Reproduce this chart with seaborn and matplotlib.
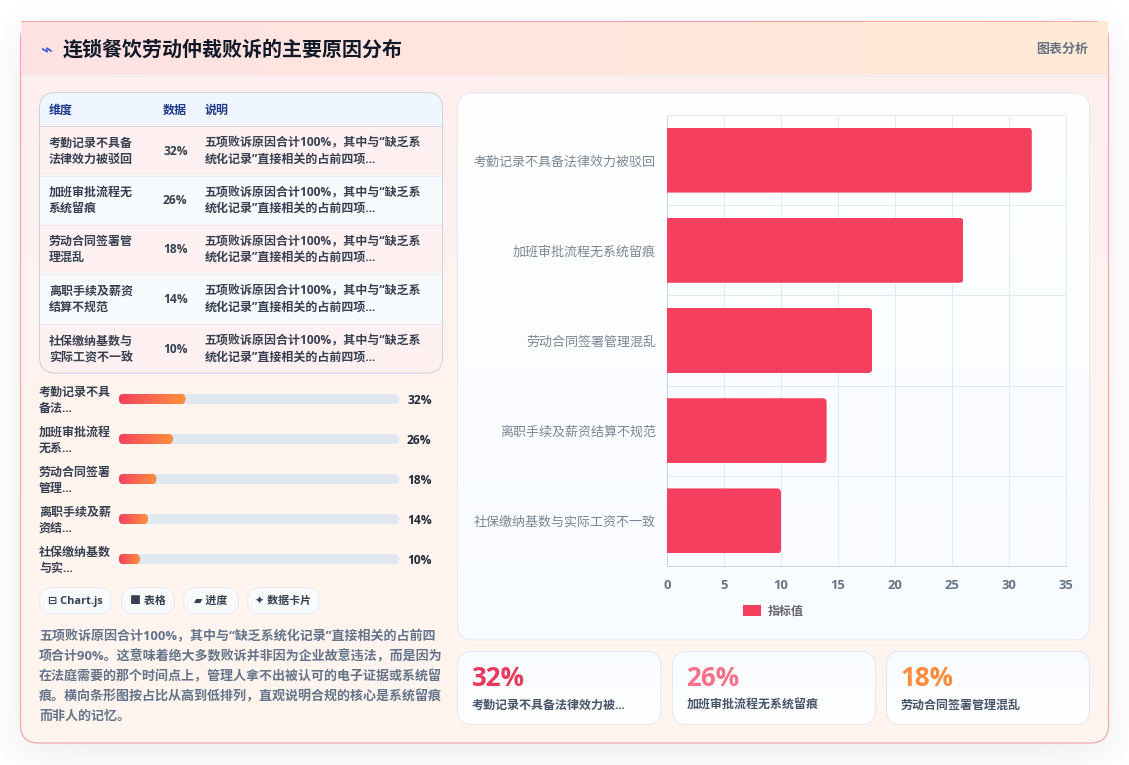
import numpy as np
import pandas as pd
import matplotlib
matplotlib.use("Agg")
import matplotlib.pyplot as plt
import seaborn as sns
from matplotlib.colors import to_rgb
from matplotlib.patches import FancyBboxPatch, Rectangle, Patch
from matplotlib.transforms import IdentityTransform

# ---- content ----
TITLE = "连锁餐饮劳动仲裁败诉的主要原因分布"
BADGE = "图表分析"
reasons = ["考勤记录不具备法律效力被驳回", "加班审批流程无系统留痕", "劳动合同签署管理混乱",
           "离职手续及薪资结算不规范", "社保缴纳基数与实际工资不一致"]
values = [32, 26, 18, 14, 10]
table_head = ["维度", "数据", "说明"]
table_names = [["考勤记录不具备", "法律效力被驳回"], ["加班审批流程无", "系统留痕"], ["劳动合同签署管", "理混乱"],
               ["离职手续及薪资", "结算不规范"], ["社保缴纳基数与", "实际工资不一致"]]
table_note = ["五项败诉原因合计100%，其中与“缺乏系", "统化记录”直接相关的占前四项..."]
progress_names = [["考勤记录不具", "备法..."], ["加班审批流程", "无系..."], ["劳动合同签署", "管理..."],
                  ["离职手续及薪", "资结..."], ["社保缴纳基数", "与实..."]]
chips = ["⊟ Chart.js", "■ 表格", "▰ 进度", "✦ 数据卡片"]
paragraph = ["五项败诉原因合计100%，其中与“缺乏系统化记录”直接相关的占前四",
             "项合计90%。这意味着绝大多数败诉并非因为企业故意违法，而是因为",
             "在法庭需要的那个时间点上，管理人拿不出被认可的电子证据或系统留",
             "痕。横向条形图按占比从高到低排列，直观说明合规的核心是系统留痕",
             "而非人的记忆。"]
card_labels = ["考勤记录不具备法律效力被...", "加班审批流程无系统留痕", "劳动合同签署管理混乱"]
SERIES = "指标值"

W, H = 1129, 765
ROSE, ORANGE = "#f43f5e", "#fb923c"
# Latin text and narrow quotes come from the first family, Chinese from the second
FONT = ["Open Sans", "Noto Sans CJK SC", "DejaVu Sans"]
PX = 0.72  # one pixel in points at 100 dpi
TEXT_NUDGE = 1.0  # optical correction for the line box of the CJK face


def pt(px):
    return px * PX


sns.set_theme(style="white")
plt.rcParams["font.family"] = FONT
fig = plt.figure(figsize=(W / 100, H / 100), dpi=100, facecolor="white")

# Page layer works in pixel coordinates with y pointing down
page = fig.add_axes([0, 0, 1, 1], zorder=0)
page.set_xlim(0, W)
page.set_ylim(H, 0)
page.axis("off")
page.set_autoscale_on(False)


def gradient(c0, c1, extent, horizontal=False, clip=None, zorder=1):
    t = np.linspace(0, 1, 256)
    a, b = np.array(to_rgb(c0)), np.array(to_rgb(c1))
    row = a[None, :] * (1 - t)[:, None] + b[None, :] * t[:, None]
    img = row[None, :, :] if horizontal else row[:, None, :]
    x0, x1, y0, y1 = extent
    im = page.imshow(img, extent=(x0, x1, y1, y0), aspect="auto", zorder=zorder, interpolation="bilinear")
    page.set_xlim(0, W)
    page.set_ylim(H, 0)
    if clip is not None:
        im.set_clip_path(clip)
    return im


def box(x0, y0, x1, y1, r, fc="none", ec="none", lw=PX, zorder=2):
    p = FancyBboxPatch((x0, y0), x1 - x0, y1 - y0, boxstyle=f"round,pad=0,rounding_size={r}",
                       fc=fc, ec=ec, lw=lw, zorder=zorder)
    page.add_patch(p)
    return p


def label(x, y, s, size, color, weight="normal", ha="left", zorder=6):
    return page.text(x, y + TEXT_NUDGE, s, fontsize=pt(size), color=color, fontweight=weight, ha=ha, va="center",
                     family=FONT, zorder=zorder)


# Soft drop shadow under the main card
xx, yy = np.meshgrid(np.arange(W) + 0.5, np.arange(H) + 0.5)
soft = 13.0
sx = 1 / (1 + np.exp((20 - xx) / soft)) * 1 / (1 + np.exp((xx - 1108) / soft))
sy = 1 / (1 + np.exp((33 - yy) / soft)) * 1 / (1 + np.exp((yy - 752) / soft))
shade = np.zeros((H, W, 4))
shade[..., 3] = 0.085 * sx * sy
page.imshow(shade, extent=(0, W, H, 0), aspect="auto", zorder=0.5)
page.set_xlim(0, W)
page.set_ylim(H, 0)

# Main card and its header band
card = box(20.5, 21.5, 1108.5, 743, 18, fc="#fff3f0", zorder=1)
gradient("#fff0f0", "#fff6ee", (20, 1109, 21, 744), clip=card, zorder=1.1)
box(20.5, 21.5, 1108.5, 743, 18, ec="#f3a6ae", lw=PX * 1.2, zorder=1.2)
gradient("#ffe2e3", "#ffebd7", (21, 1108, 21, 75), horizontal=True, zorder=1.3)
page.plot([21, 1108], [75.5, 75.5], color="#ebe7ea", lw=PX, zorder=1.4)
page.plot([21, 1097], [21, 21], color="#f3a6ae", lw=PX, zorder=1.4)

label(47, 50, "⌁", 20, "#3b5bdb", "bold", ha="center")
label(63, 50, TITLE, 20, "#111827", "bold")
label(1088, 48, BADGE, 13, "#6b7280", "bold", ha="right")

# Summary table
tbl_x0, tbl_x1 = 39.5, 442.5
tbl_clip = box(tbl_x0, 92.5, tbl_x1, 373, 16, fc="#ffffff", zorder=2)
row_edges = [125, 175, 224, 273, 323, 373]
head_band = page.add_patch(Rectangle((tbl_x0, 92.5), tbl_x1 - tbl_x0, 32.5, fc="#eff6ff", ec="none", zorder=2.1))
head_band.set_clip_path(tbl_clip)
for i in range(5):
    shade_row = "#fff1f1" if i % 2 == 0 else "#f8fbfe"
    r = page.add_patch(Rectangle((tbl_x0, row_edges[i]), tbl_x1 - tbl_x0, row_edges[i + 1] - row_edges[i],
                                 fc=shade_row, ec="none", zorder=2.1))
    r.set_clip_path(tbl_clip)
    page.plot([tbl_x0, tbl_x1], [row_edges[i] + 0.5] * 2, color="#d5dce8" if i == 0 else "#e6ebf2", lw=PX, zorder=2.2)
box(tbl_x0, 92.5, tbl_x1, 373, 16, ec="#cbd3e0", lw=PX, zorder=2.3)

for x, s in zip((49, 163, 205), table_head):
    label(x, 109.5, s, 12, "#1e3a8a", "bold")
for i, (name, v) in enumerate(zip(table_names, values)):
    mid = (row_edges[i] + row_edges[i + 1]) / 2
    for k in range(2):
        y = mid + (k - 0.5) * 16
        label(49, y, name[k], 12, "#374151", "bold")
        label(204.5, y, table_note[k], 12, "#374151", "bold")
    label(163, mid, f"{v}%", 12, "#374151", "bold")

# Progress list: fill length follows each value
progress_y = [399, 439, 479, 519, 559]
track_x0, track_x1 = 119, 399
fill_px_per_point = 2.07
for y, name, v in zip(progress_y, progress_names, values):
    label(39, y - 8, name[0], 12, "#374151", "bold")
    label(39, y + 8, name[1], 12, "#374151", "bold")
    box(track_x0, y - 5, track_x1, y + 5, 5, fc="#e2e8f0", zorder=2)
    end = track_x0 + v * fill_px_per_point
    bar = box(track_x0, y - 5, end, y + 5, 5, fc=ROSE, zorder=2.1)
    gradient(ROSE, ORANGE, (track_x0, end, y - 5, y + 5), horizontal=True, clip=bar, zorder=2.2)
    label(407, y + 0.5, f"{v}%", 12, "#1f2937", "bold")

# Tag chips
chip_edges = [(39, 112), (121, 175), (183, 239), (247, 320)]
for (x0, x1), s in zip(chip_edges, chips):
    box(x0 + 0.5, 587.5, x1 - 0.5, 614, 13, fc="#f8fafc", ec="#e7ecf3")
    label((x0 + x1) / 2, 600.5, s, 11, "#374151", "bold", ha="center")

# Commentary
for k, line in enumerate(paragraph):
    label(39, 635.5 + k * 19.9, line, 13, "#64748b", "bold")

# Chart panel
panel = box(457.5, 93, 1089.5, 640, 16, fc="#ffffff", zorder=2)
gradient("#ffffff", "#f8fbff", (457, 1090, 93, 640), clip=panel, zorder=2.1)
box(457.5, 93, 1089.5, 640, 16, ec="#e2e8f0", zorder=2.2)

# Stat cards
card_edges = [(457.5, 661), (672.5, 875.5), (886.5, 1089.5)]
card_colors = ["#e83a5a", "#f8718a", "#fb8c3c"]
for (x0, x1), v, s, c in zip(card_edges, values, card_labels, card_colors):
    p = box(x0, 651.5, x1, 724.5, 14, fc="#ffffff", zorder=2)
    gradient("#f8fbff", "#ffffff", (x0, x1, 651, 725), clip=p, zorder=2.1)
    box(x0, 651.5, x1, 724.5, 14, ec="#e2e8f0", zorder=2.2)
    label(x0 + 14, 678, f"{v}%", 26, c, "bold")
    label(x0 + 14, 704, s, 12, "#475569", "bold")

# Horizontal bar chart
ax = fig.add_axes([667 / W, 1 - 566 / H, 399 / W, 451 / H], zorder=3)
ax.patch.set_alpha(0)
df = pd.DataFrame({"原因": reasons, SERIES: values})
sns.barplot(data=df, x=SERIES, y="原因", orient="h", color=ROSE, saturation=1, width=0.72, ax=ax, zorder=3)
ax.set_xlim(0, 35)
ax.set_xticks(range(0, 36, 5))
ax.set_ylim(4.5, -0.5)
ax.set_yticks(range(5))
ax.set_yticks(np.arange(-0.5, 5, 1), minor=True)
ax.set_xlabel("")
ax.set_ylabel("")
GRID = "#e3e9f0"
ax.grid(True, axis="x", which="major", color=GRID, lw=PX, zorder=0)
ax.grid(True, axis="y", which="minor", color=GRID, lw=PX, zorder=0)
ax.grid(False, axis="y", which="major")
ax.set_axisbelow(True)
ax.tick_params(axis="x", which="major", length=pt(8), width=PX, color=GRID, pad=pt(5),
               labelsize=pt(13), labelcolor="#64748b")
ax.tick_params(axis="y", which="major", length=0, pad=pt(11), labelsize=pt(13), labelcolor="#7b8794")
ax.tick_params(axis="y", which="minor", length=pt(9), width=PX, color=GRID)
for t in ax.get_xticklabels():
    t.set_fontweight("bold")
for side in ("top", "right"):
    ax.spines[side].set_color(GRID)
    ax.spines[side].set_linewidth(PX)
for side in ("left", "bottom"):
    ax.spines[side].set_color("#cbd5e1")
    ax.spines[side].set_linewidth(PX)

# Round the free end of every bar
fig.canvas.draw()
for patch in ax.patches:
    (bx0, by0), (bx1, by1) = ax.transData.transform(patch.get_bbox().get_points())
    by0, by1 = sorted((by0, by1))
    keep = FancyBboxPatch((bx0 - 10, by0), bx1 - bx0 + 10, by1 - by0, boxstyle="round,pad=0,rounding_size=4",
                          transform=IdentityTransform())
    patch.set_clip_path(keep)
    patch.set_edgecolor("none")

ax.legend(handles=[Patch(fc=ROSE, ec="none", label=SERIES)], loc="center left", frameon=False,
          bbox_to_anchor=(741 / W, 1 - 611 / H), bbox_transform=fig.transFigure,
          prop={"size": pt(12), "family": FONT, "weight": "bold"},
          labelcolor="#666666", handlelength=1.5, handleheight=1.0, handletextpad=0.5, borderpad=0.2, borderaxespad=0)

fig.savefig("out.png", dpi=100, facecolor="white")
